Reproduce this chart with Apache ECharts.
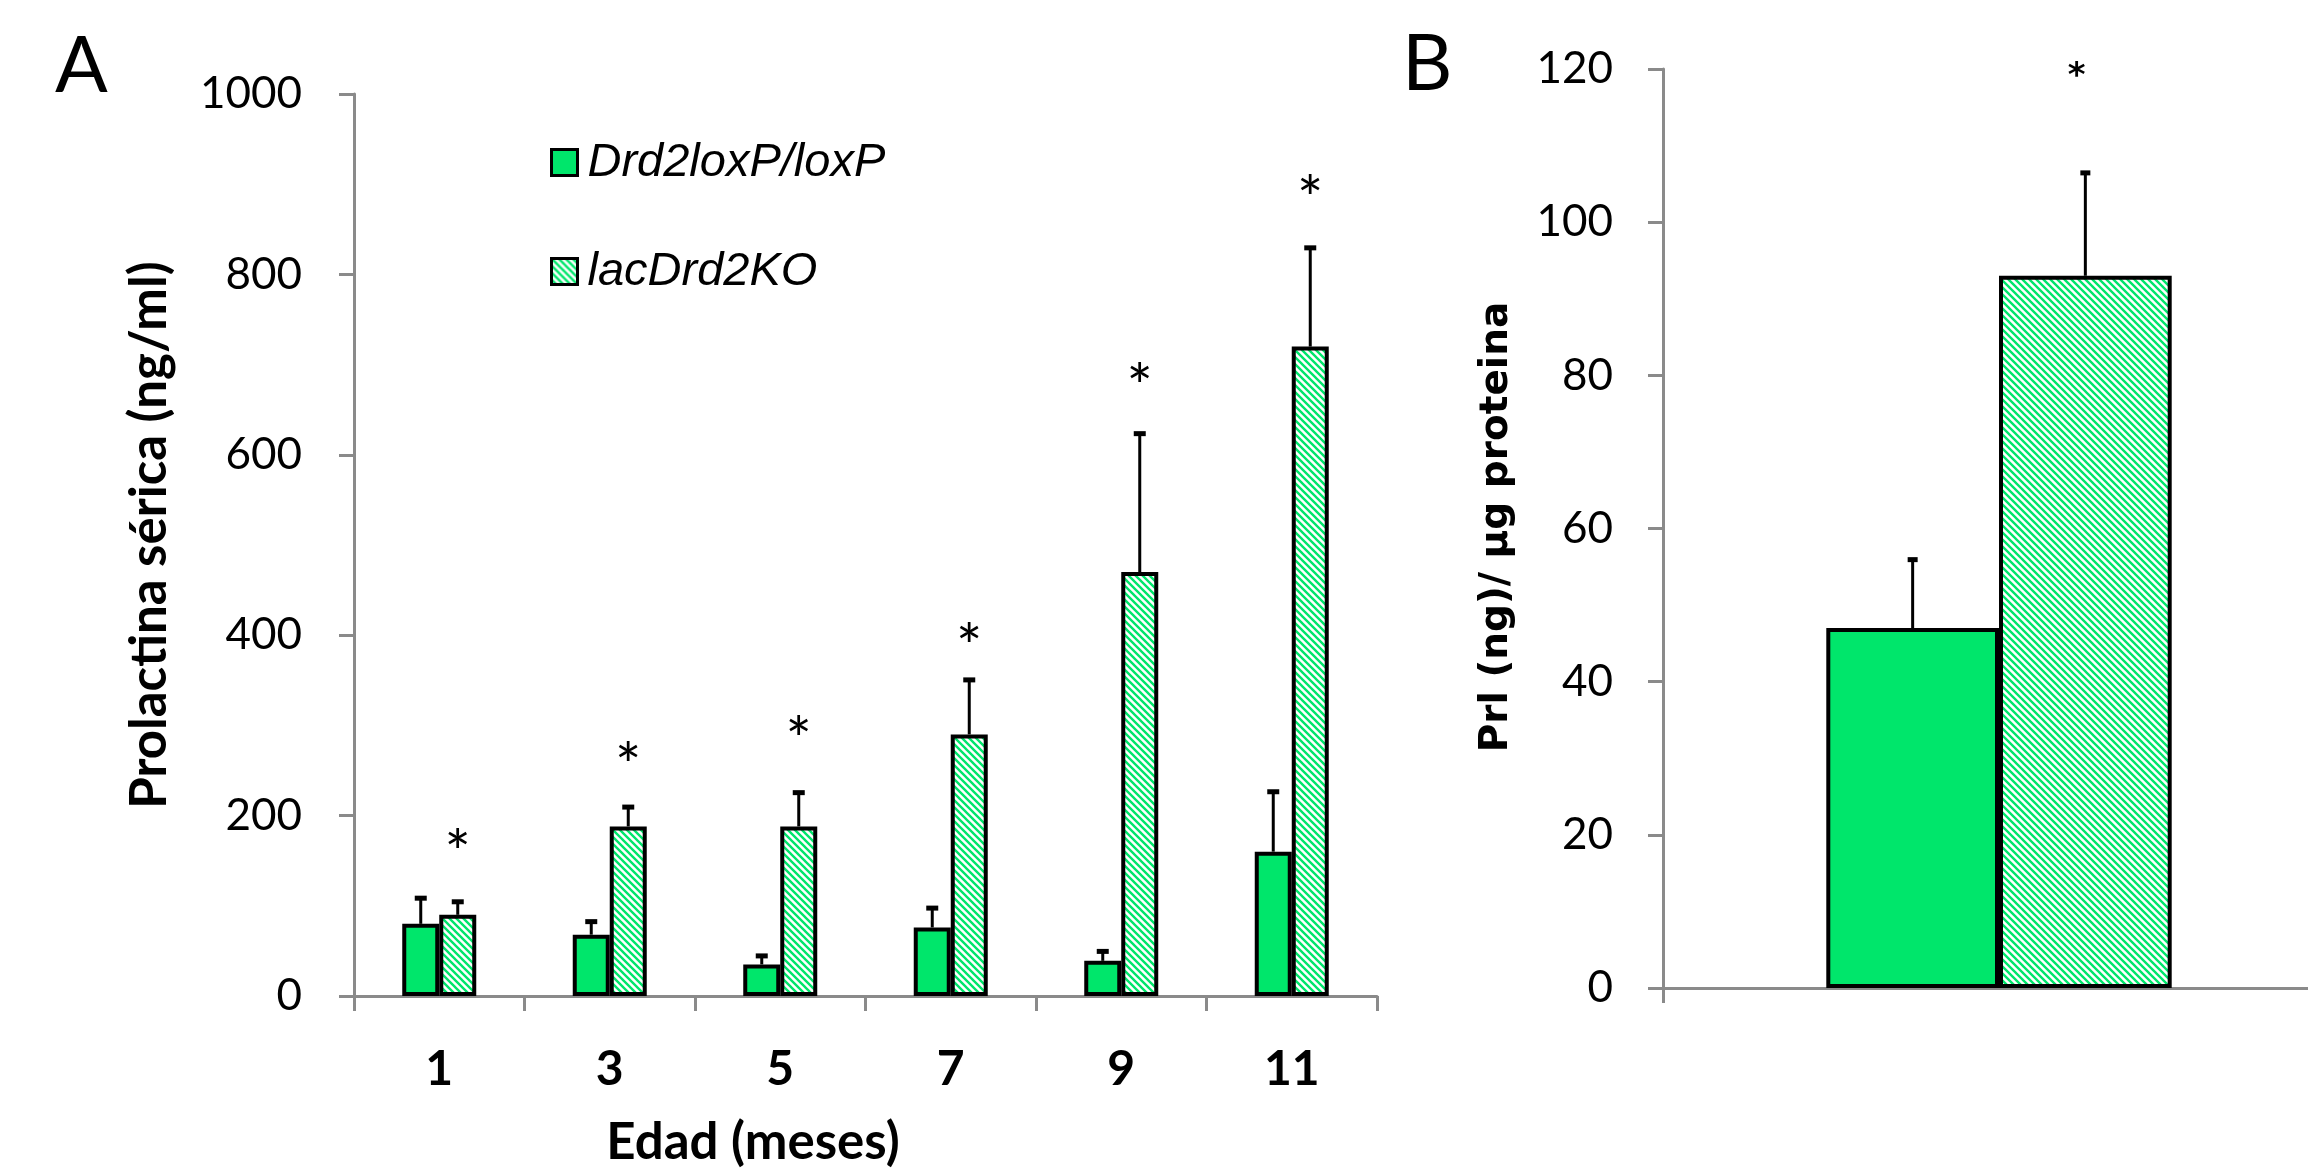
<!DOCTYPE html>
<html>
<head>
<meta charset="utf-8">
<script src="https://cdn.jsdelivr.net/npm/echarts@6/dist/echarts.min.js"></script>
<style>
html,body{margin:0;padding:0;background:#fff;}
#chart{width:2308px;height:1173px;}
</style>
</head>
<body>
<div id="chart"></div>
<script>
// ---------- data ----------
const months = ['1', '3', '5', '7', '9', '11'];
const seriesNames = ['Drd2loxP/loxP', 'lacDrd2KO'];
const floxMeanA = [80, 68, 35, 76, 39, 160];
const floxSemA = [29, 15, 10, 22, 11, 67];
const koMeanA = [90, 188, 188, 290, 470, 720];
const koSemA = [15, 22, 38, 61, 154, 110];
const starA = [174, 271, 299, 402, 691, 899];
const yTicksA = { min: 0, max: 1000, step: 200 };

const groupB = [''];
const floxMeanB = [47];
const floxSemB = [9];
const koMeanB = [93];
const koSemB = [13.5];
const starB = [120];
const yTicksB = { min: 0, max: 120, step: 20 };

// ---------- styles ----------
const GREEN = '#00E66B';
const AXIS = '#8a8a8a';
function hatch() {
  const s = 7;
  const c = document.createElement('canvas');
  c.width = s; c.height = s;
  const ctx = c.getContext('2d');
  ctx.fillStyle = '#fff';
  ctx.fillRect(0, 0, s, s);
  ctx.strokeStyle = GREEN;
  ctx.lineWidth = 2.4;
  ctx.beginPath();
  ctx.moveTo(-1, -1); ctx.lineTo(s + 1, s + 1);
  ctx.moveTo(-1, s - 1); ctx.lineTo(1, s + 1);
  ctx.moveTo(s - 1, -1); ctx.lineTo(s + 1, 1);
  ctx.stroke();
  return { image: c, repeat: 'repeat' };
}
const HATCH = hatch();

const BW_A = 0.217;   // bar width as fraction of category band (panel A)
const BW_B = 0.257;   // panel B

function errRenderer(sign, frac, capW) {
  return function (params, api) {
    const i = api.value(0), m = api.value(1), e = api.value(2);
    const band = api.size([1, 0])[0];
    const bw = band * frac;
    const p0 = api.coord([i, m]);
    const p1 = api.coord([i, m + e]);
    const x = p0[0] + sign * bw / 2;
    return {
      type: 'group',
      children: [
        { type: 'line', shape: { x1: x, y1: p0[1], x2: x, y2: p1[1] }, style: { stroke: '#000', lineWidth: 3 } },
        { type: 'rect', shape: { x: x - capW / 2, y: p1[1] - 2, width: capW, height: 5 }, style: { fill: '#000' } }
      ]
    };
  };
}
function starRenderer(frac, font, dy) {
  return function (params, api) {
    const i = api.value(0), v = api.value(1);
    const band = api.size([1, 0])[0];
    const p = api.coord([i, v]);
    return {
      type: 'text',
      style: { text: '*', x: p[0] + band * frac / 2, y: p[1] + dy, font: font, fill: '#000', align: 'center', verticalAlign: 'middle' }
    };
  };
}

const yAxisCommon = {
  type: 'value',
  axisLine: { show: true, lineStyle: { color: AXIS, width: 3 } },
  axisTick: { show: true, length: 15, lineStyle: { color: AXIS, width: 3 } },
  splitLine: { show: false }
};
const xAxisCommon = {
  type: 'category',
  axisLine: { show: true, lineStyle: { color: AXIS, width: 3 } },
  axisTick: { show: true, length: 15, interval: 0, lineStyle: { color: AXIS, width: 3 } }
};

const option = {
  animation: false,
  backgroundColor: '#fff',
  grid: [
    { left: 354, top: 94, width: 1023, height: 902, outerBoundsMode: 'none' },
    { left: 1663, top: 69, width: 672, height: 919, outerBoundsMode: 'none' }
  ],
  xAxis: [
    Object.assign({}, xAxisCommon, {
      gridIndex: 0, data: months,
      axisLabel: { margin: 50, fontFamily: 'Lato', fontWeight: 'bold', fontSize: 48, color: '#000' }
    }),
    Object.assign({}, xAxisCommon, {
      gridIndex: 1, data: groupB, axisLabel: { show: false }
    })
  ],
  yAxis: [
    Object.assign({}, yAxisCommon, {
      gridIndex: 0, min: yTicksA.min, max: yTicksA.max, interval: yTicksA.step,
      axisLabel: { margin: 52, fontFamily: 'Lato', fontSize: 44, color: '#000', formatter: v => String(v) }
    }),
    Object.assign({}, yAxisCommon, {
      gridIndex: 1, min: yTicksB.min, max: yTicksB.max, interval: yTicksB.step,
      axisLabel: { margin: 50, fontFamily: 'Lato', fontSize: 44, color: '#000', formatter: v => String(v) }
    })
  ],
  legend: {
    data: seriesNames,
    orient: 'vertical',
    left: 550, top: 139,
    padding: 0,
    itemGap: 62,
    itemWidth: 26, itemHeight: 26,
    icon: 'rect',
    itemStyle: { borderWidth: 3 },
    textStyle: { fontFamily: 'Liberation Sans', fontStyle: 'italic', fontSize: 47, lineHeight: 47, color: '#000', padding: [0, 0, 0, 5] }
  },
  series: [
    {
      name: seriesNames[0], type: 'bar', xAxisIndex: 0, yAxisIndex: 0,
      data: floxMeanA, barWidth: (BW_A * 100) + '%', barGap: '0%',
      itemStyle: { color: GREEN, borderColor: '#000', borderWidth: 4 }
    },
    {
      name: seriesNames[1], type: 'bar', xAxisIndex: 0, yAxisIndex: 0,
      data: koMeanA, barWidth: (BW_A * 100) + '%', barGap: '0%',
      itemStyle: { color: HATCH, borderColor: '#000', borderWidth: 4 }
    },
    {
      type: 'custom', xAxisIndex: 0, yAxisIndex: 0, z: 5,
      renderItem: errRenderer(-1, BW_A, 12),
      data: floxMeanA.map((m, i) => [i, m, floxSemA[i]])
    },
    {
      type: 'custom', xAxisIndex: 0, yAxisIndex: 0, z: 5,
      renderItem: errRenderer(1, BW_A, 12),
      data: koMeanA.map((m, i) => [i, m, koSemA[i]])
    },
    {
      type: 'custom', xAxisIndex: 0, yAxisIndex: 0, z: 5,
      renderItem: starRenderer(BW_A, '62px Lato', 16),
      data: starA.map((v, i) => [i, v])
    },
    {
      name: seriesNames[0], type: 'bar', xAxisIndex: 1, yAxisIndex: 1,
      data: floxMeanB, barWidth: (BW_B * 100) + '%', barGap: '0%',
      itemStyle: { color: GREEN, borderColor: '#000', borderWidth: 4 }
    },
    {
      name: seriesNames[1], type: 'bar', xAxisIndex: 1, yAxisIndex: 1,
      data: koMeanB, barWidth: (BW_B * 100) + '%', barGap: '0%',
      itemStyle: { color: HATCH, borderColor: '#000', borderWidth: 4 }
    },
    {
      type: 'custom', xAxisIndex: 1, yAxisIndex: 1, z: 5,
      renderItem: errRenderer(-1, BW_B, 10),
      data: floxMeanB.map((m, i) => [i, m, floxSemB[i]])
    },
    {
      type: 'custom', xAxisIndex: 1, yAxisIndex: 1, z: 5,
      renderItem: errRenderer(1, BW_B, 10),
      data: koMeanB.map((m, i) => [i, m, koSemB[i]])
    },
    {
      type: 'custom', xAxisIndex: 1, yAxisIndex: 1, z: 5,
      renderItem: starRenderer(BW_B * 0.9, 'bold 34px "DejaVu Sans"', 8),
      data: starB.map((v, i) => [i, v])
    }
  ],
  graphic: [
    { type: 'text', left: 55, top: 28, style: { text: 'A', font: '78px Lato', fill: '#000' } },
    { type: 'text', left: 1402, top: 26, style: { text: 'B', font: '78px Lato', fill: '#000' } },
    { type: 'text', x: 150, y: 535, rotation: Math.PI / 2,
      style: { text: 'Prolactina sérica (ng/ml)', font: 'bold 51px Lato', fill: '#000', align: 'center', verticalAlign: 'middle' } },
    { type: 'text', x: 753, y: 1143,
      style: { text: 'Edad (meses)', font: 'bold 51px Lato', fill: '#000', align: 'center', verticalAlign: 'middle' } },
    { type: 'text', x: 1497, y: 527, rotation: Math.PI / 2,
      style: { text: 'Prl (ng)/ µg proteina', font: 'bold 39px "DejaVu Sans"', fill: '#000', align: 'center', verticalAlign: 'middle' } }
  ]
};

const chart = echarts.init(document.getElementById('chart'), null, { renderer: 'canvas' });
chart.setOption(option);
</script>
</body>
</html>
